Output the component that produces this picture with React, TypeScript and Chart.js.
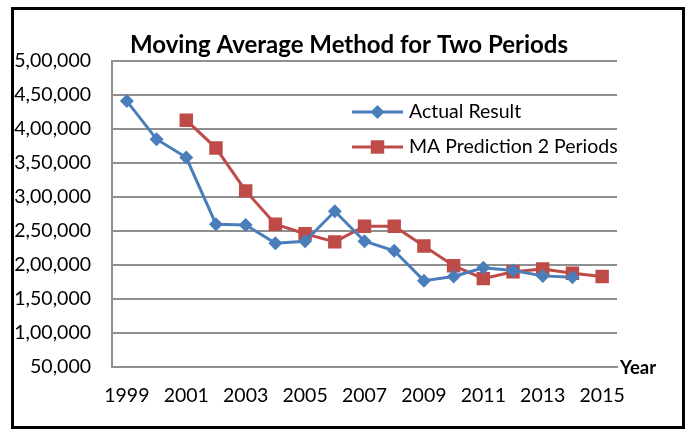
import React, { useEffect, useRef } from "react";
import { Chart, registerables } from "chart.js";

Chart.register(...registerables);

const years = [
  "1999", "2000", "2001", "2002", "2003", "2004", "2005", "2006", "2007",
  "2008", "2009", "2010", "2011", "2012", "2013", "2014", "2015",
];
const actualResult = [
  441000, 385000, 358000, 260000, 259000, 232000, 235000, 279000, 235000,
  221000, 177000, 183000, 196000, 192000, 184000, 182000, null,
];
const maPrediction = [
  null, null, 413000, 372000, 309000, 260000, 246000, 234000, 257000,
  257000, 228000, 199000, 180000, 190000, 194000, 188000, 183000,
];
const seriesNames = ["Actual Result", "MA Prediction 2 Periods"];
const yMin = 50000;
const yMax = 500000;
const yStep = 50000;
const titleText = "Moving Average Method for Two Periods";
const xAxisTitle = "Year";

const BLUE = "#4A7EBB";
const RED = "#BE4B48";
const GRID = "#8f8f8f";
const FONT = "Lato";
const LABEL_SIZE = 19.5;

function formatIndian(n: number): string {
  const s = Math.round(n).toString();
  if (s.length <= 3) return s;
  const last3 = s.slice(-3);
  let rest = s.slice(0, -3);
  const parts: string[] = [];
  while (rest.length > 2) {
    parts.unshift(rest.slice(-2));
    rest = rest.slice(0, -2);
  }
  if (rest.length) parts.unshift(rest);
  return parts.join(",") + "," + last3;
}

function drawMarker(ctx: CanvasRenderingContext2D, style: string, x: number, y: number, r: number, color: string) {
  ctx.save();
  ctx.fillStyle = color;
  ctx.beginPath();
  if (style === "rectRot") {
    ctx.moveTo(x - r, y);
    ctx.lineTo(x, y - r);
    ctx.lineTo(x + r, y);
    ctx.lineTo(x, y + r);
    ctx.closePath();
  } else {
    const s = Math.SQRT1_2 * r;
    ctx.rect(x - s, y - s, 2 * s, 2 * s);
  }
  ctx.fill();
  ctx.restore();
}

const decorPlugin = {
  id: "decor",
  afterDraw(chart: any) {
    const ctx: CanvasRenderingContext2D = chart.ctx;
    const area = chart.chartArea;
    ctx.save();
    // Title
    ctx.fillStyle = "#000";
    ctx.font = `bold 24px ${FONT}`;
    ctx.textAlign = "center";
    ctx.textBaseline = "middle";
    ctx.fillText(titleText, 349, 45);
    // Axis title at right end of x axis
    ctx.font = `bold 18.5px ${FONT}`;
    ctx.textAlign = "left";
    ctx.fillText(xAxisTitle, area.right + 3, area.bottom + 1);
    // Legend
    const lx0 = 352;
    const lx1 = 403;
    const rows = [112, 147];
    chart.data.datasets.forEach((ds: any, i: number) => {
      const y = rows[i];
      ctx.strokeStyle = ds.borderColor;
      ctx.lineWidth = ds.borderWidth;
      ctx.beginPath();
      ctx.moveTo(lx0, y);
      ctx.lineTo(lx1, y);
      ctx.stroke();
      drawMarker(ctx, ds.pointStyle, (lx0 + lx1) / 2, y, ds.pointRadius, ds.backgroundColor);
      ctx.fillStyle = "#000";
      ctx.font = `${LABEL_SIZE}px ${FONT}`;
      ctx.textAlign = "left";
      ctx.textBaseline = "middle";
      ctx.fillText(ds.label, 409, y);
    });
    ctx.restore();
  },
};

export default function App() {
  const canvasRef = useRef<HTMLCanvasElement | null>(null);

  useEffect(() => {
    if (!canvasRef.current) return;
    const chart = new Chart(canvasRef.current, {
      type: "line",
      data: {
        labels: years,
        datasets: [
          {
            label: seriesNames[0],
            data: actualResult,
            borderColor: BLUE,
            backgroundColor: BLUE,
            borderWidth: 3,
            pointStyle: "rectRot",
            pointRadius: 7,
            pointBorderWidth: 0,
            pointBackgroundColor: BLUE,
            tension: 0,
            spanGaps: false,
          },
          {
            label: seriesNames[1],
            data: maPrediction,
            borderColor: RED,
            backgroundColor: RED,
            borderWidth: 3,
            pointStyle: "rect",
            pointRadius: 9.5,
            pointBorderWidth: 0,
            pointBackgroundColor: RED,
            tension: 0,
            spanGaps: false,
          },
        ],
      },
      options: {
        responsive: false,
        animation: false,
        layout: { padding: { top: 61, left: 0, right: 73, bottom: 0 } },
        plugins: {
          legend: { display: false },
          title: { display: false },
          tooltip: { enabled: false },
        },
        scales: {
          x: {
            type: "category",
            offset: true,
            grid: { display: false, drawTicks: false },
            border: { display: true, color: GRID, width: 2 },
            ticks: {
              autoSkip: false,
              maxRotation: 0,
              minRotation: 0,
              padding: 17,
              color: "#000",
              font: { family: FONT, size: LABEL_SIZE },
              callback: (_v: any, idx: number) => (idx % 2 === 0 ? years[idx] : ""),
            },
            afterFit: (scale: any) => {
              scale.height = 63;
            },
          },
          y: {
            min: yMin,
            max: yMax,
            grid: { color: GRID, lineWidth: 2, drawTicks: false },
            border: { display: true, color: GRID, width: 2 },
            ticks: {
              stepSize: yStep,
              padding: 21,
              color: "#000",
              font: { family: FONT, size: LABEL_SIZE },
              callback: (v: any) => formatIndian(Number(v)),
            },
            afterFit: (scale: any) => {
              scale.width = 112;
            },
          },
        },
      },
      plugins: [decorPlugin],
    });
    return () => chart.destroy();
  }, []);

  return (
    <div style={{ position: "fixed", left: 0, top: 0, width: 690, height: 430, background: "#fff" }}>
      <canvas ref={canvasRef} width={690} height={430} style={{ position: "absolute", left: 0, top: 0, width: 690, height: 430 }} />
      <div
        style={{
          position: "absolute",
          left: 11,
          top: 7,
          width: 674,
          height: 422,
          boxSizing: "border-box",
          border: "3px solid #000",
          pointerEvents: "none",
        }}
      />
    </div>
  );
}
